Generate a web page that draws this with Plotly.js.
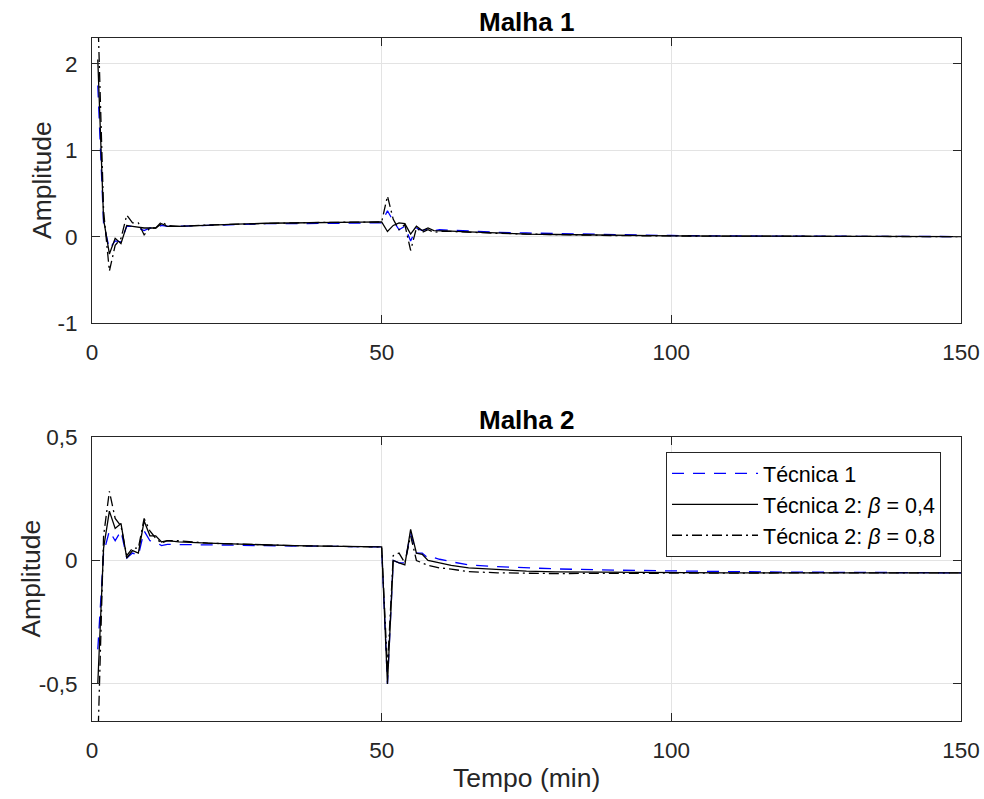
<!DOCTYPE html>
<html>
<head>
<meta charset="utf-8">
<script src="https://cdn.plot.ly/plotly-3.0.1.min.js"></script>
<style>html,body{margin:0;padding:0;background:#fff;}#chart{width:984px;height:799px;}</style>
</head>
<body>
<div id="chart"></div>
<script>
// Time samples (min)
const tempo = [1,2,3,4,5,6,7,8,9,10,11,12,13,
  15,20,25,30,35,40,45,
  50,51,52,53,54,55,56,57,58,59,60,
  62,65,70,75,80,90,100,110,120,130,140,150];

// Malha 1
const m1_tec1 = [1.75,0.15,-0.14,-0.05,-0.06,0.12,0.12,0.10,0.07,0.10,0.10,0.13,0.12,
  0.12,0.13,0.14,0.15,0.15,0.155,0.16,
  0.16,0.30,0.18,0.08,0.12,-0.05,0.10,0.07,0.09,0.07,0.08,
  0.075,0.065,0.05,0.042,0.035,0.022,0.013,0.008,0.005,0.003,0.002,0.001];
const m1_b04 = [2.05,0.20,-0.20,-0.02,-0.08,0.13,0.12,0.11,0.10,0.10,0.10,0.15,0.12,
  0.12,0.135,0.145,0.155,0.16,0.165,0.168,
  0.17,0.06,0.13,0.16,0.15,0.03,0.12,0.07,0.10,0.07,0.07,
  0.065,0.055,0.04,0.03,0.025,0.015,0.01,0.006,0.004,0.002,0.001,0.0];
const m1_b08 = [2.6,0.30,-0.40,-0.10,-0.02,0.25,0.16,0.16,0.02,0.10,0.10,0.17,0.13,
  0.12,0.135,0.145,0.155,0.16,0.165,0.168,
  0.17,0.47,0.20,0.08,0.14,-0.16,0.10,0.05,0.08,0.05,0.06,
  0.06,0.05,0.038,0.03,0.022,0.013,0.008,0.005,0.003,0.002,0.001,0.0];

// Malha 2
const m2_tec1 = [-0.36,0.03,0.12,0.08,0.12,0.01,0.03,0.02,0.12,0.08,0.075,0.06,0.065,
  0.065,0.065,0.062,0.06,0.058,0.057,0.056,
  0.055,-0.50,0.0,-0.01,-0.01,0.11,0.03,0.03,0.01,0.012,0.005,
  -0.005,-0.018,-0.025,-0.03,-0.034,-0.039,-0.043,-0.045,-0.047,-0.048,-0.049,-0.05];
const m2_b04 = [-0.50,0.05,0.20,0.13,0.15,0.01,0.04,0.03,0.16,0.10,0.10,0.075,0.08,
  0.075,0.07,0.066,0.063,0.06,0.058,0.056,
  0.055,-0.50,0.0,-0.01,-0.018,0.126,0.03,0.025,0.0,-0.005,-0.01,
  -0.02,-0.03,-0.038,-0.043,-0.046,-0.048,-0.049,-0.05,-0.05,-0.05,-0.05,-0.05];
const m2_b08 = [-0.75,0.10,0.28,0.17,0.14,0.02,0.05,0.05,0.17,0.12,0.09,0.07,0.08,
  0.08,0.07,0.066,0.063,0.06,0.058,0.056,
  0.055,-0.44,0.02,0.03,-0.01,0.10,0.0,-0.01,-0.02,-0.025,-0.03,
  -0.035,-0.045,-0.05,-0.052,-0.053,-0.052,-0.051,-0.05,-0.05,-0.05,-0.05,-0.05];

const names = ['Técnica 1', 'Técnica 2: <i>β</i> = 0,4', 'Técnica 2: <i>β</i> = 0,8'];
const xTicks = [0, 50, 100, 150];
const xTickText = ['0', '50', '100', '150'];
const y1Ticks = [-1, 0, 1, 2];
const y1TickText = ['-1', '0', '1', '2'];
const y2Ticks = [-0.5, 0, 0.5];
const y2TickText = ['-0,5', '0', '0,5'];

const styles = [
  {color: '#0000ff', width: 1.3, dash: '12px,9px'},
  {color: '#000000', width: 1.3, dash: 'solid'},
  {color: '#000000', width: 1.3, dash: '10px,4px,2px,4px'}
];

const m1 = [m1_tec1, m1_b04, m1_b08];
const m2 = [m2_tec1, m2_b04, m2_b08];
const traces = [];
m1.forEach((s, i) => traces.push({x: tempo, y: s, type: 'scatter', mode: 'lines', xaxis: 'x', yaxis: 'y',
  line: styles[i], name: names[i], showlegend: false}));
m2.forEach((s, i) => traces.push({x: tempo, y: s, type: 'scatter', mode: 'lines', xaxis: 'x2', yaxis: 'y2',
  line: styles[i], name: names[i], showlegend: true}));

const FONT = 'Liberation Sans, Arial, Helvetica, sans-serif';
const axColor = '#262626';
const gridColor = '#e3e3e3';
function xa(anchor) {
  return {anchor: anchor, domain: [0, 1], range: [0, 150], tickvals: xTicks, ticktext: xTickText,
    ticks: 'inside', ticklen: 8, tickcolor: axColor, tickwidth: 1, showline: true, mirror: 'ticks',
    linecolor: axColor, linewidth: 1, showgrid: true, gridcolor: gridColor, zeroline: false,
    tickfont: {family: FONT, size: 22.5, color: axColor}, ticklabelstandoff: 9};
}
function ya(anchor, dom, range, tv, tt) {
  return {anchor: anchor, domain: dom, range: range, tickvals: tv, ticktext: tt,
    ticks: 'inside', ticklen: 8, tickcolor: axColor, tickwidth: 1, showline: true, mirror: 'ticks',
    linecolor: axColor, linewidth: 1, showgrid: true, gridcolor: gridColor, zeroline: false,
    tickfont: {family: FONT, size: 22.5, color: axColor}, ticklabelstandoff: 9};
}

const titleFont = {family: FONT, size: 26.5, color: axColor};
const layout = {
  width: 984, height: 799,
  margin: {l: 91.5, r: 23, t: 38, b: 78},
  paper_bgcolor: '#fff', plot_bgcolor: '#fff',
  font: {family: FONT, color: axColor},
  xaxis: xa('y'),
  yaxis: ya('x', [0.5827, 1], [-1, 2.3], y1Ticks, y1TickText),
  xaxis2: xa('y2'),
  yaxis2: ya('x2', [0, 0.4158], [-0.65, 0.5], y2Ticks, y2TickText),
  legend: {x: 0.977, y: 0.394, xanchor: 'right', yanchor: 'top', bgcolor: '#fff',
    bordercolor: axColor, borderwidth: 1, itemwidth: 86,
    font: {family: FONT, size: 21.5, color: '#000'}, tracegroupgap: 0},
  annotations: [
    {text: '<b>Malha 1</b>', xref: 'paper', yref: 'paper', x: 0.5, y: 1.023, xanchor: 'center', yanchor: 'middle',
     showarrow: false, font: {family: FONT, size: 26, color: '#000'}},
    {text: '<b>Malha 2</b>', xref: 'paper', yref: 'paper', x: 0.5, y: 0.4407, xanchor: 'center', yanchor: 'middle',
     showarrow: false, font: {family: FONT, size: 26, color: '#000'}},
    {text: 'Amplitude', xref: 'paper', yref: 'paper', x: -0.0569, y: 0.7914, xanchor: 'center', yanchor: 'middle',
     textangle: -90, showarrow: false, font: titleFont},
    {text: 'Amplitude', xref: 'paper', yref: 'paper', x: -0.0707, y: 0.2079, xanchor: 'center', yanchor: 'middle',
     textangle: -90, showarrow: false, font: titleFont},
    {text: 'Tempo (min)', xref: 'paper', yref: 'paper', x: 0.5, y: -0.0835, xanchor: 'center', yanchor: 'middle',
     showarrow: false, font: titleFont}
  ],
  showlegend: true
};

Plotly.newPlot('chart', traces, layout, {displayModeBar: false, staticPlot: true});
</script>
</body>
</html>
